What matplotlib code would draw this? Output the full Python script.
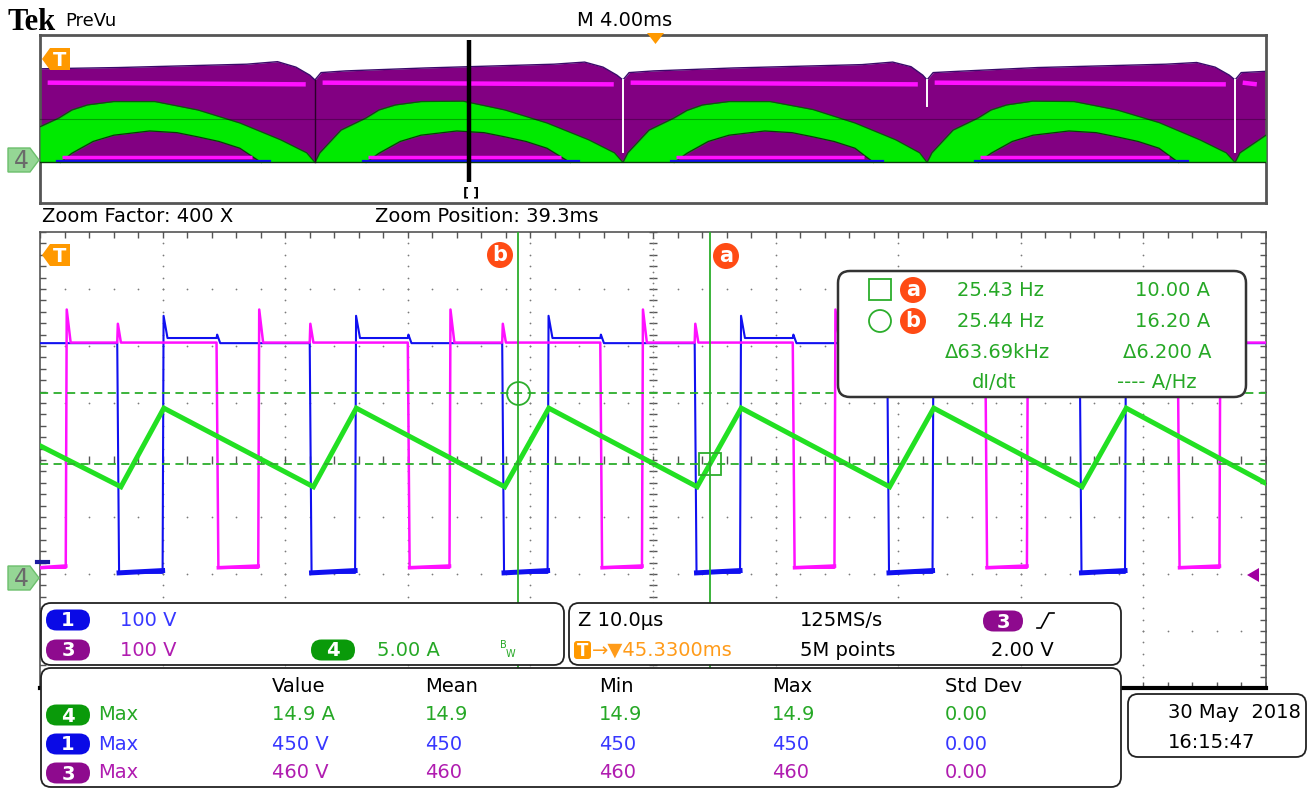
import matplotlib
matplotlib.use("Agg")
import matplotlib.pyplot as plt
from matplotlib.patches import FancyBboxPatch, Circle, Polygon
import numpy as np

plt.rcParams['font.family'] = ['DejaVu Sans']

W, H, DPI = 1313, 789, 100

# ---------------- data: zoomed window (time in µs, centre = 0, 10 µs/div) ----------------
ch4_t = [-50.0, -43.4, -39.9, -27.7, -24.2, -12.1, -8.5, 3.6, 7.2, 19.3, 22.9, 35.0, 38.6, 50.0]
ch4_a = [11.6, 8.0, 14.9, 8.0, 14.9, 8.0, 14.9, 8.0, 14.9, 8.0, 14.9, 8.0, 14.9, 8.3]

ch1_fall = [-43.7, -28.0, -12.3, 3.4, 19.1, 34.8]
ch1_rise = [-40.0, -24.3, -8.6, 7.1, 22.8, 38.5]
ch3_rise = [-47.9, -32.2, -16.6, -0.9, 14.8, 30.5, 46.2]
ch3_fall = [-35.6, -20.0, -4.3, 11.4, 27.1, 42.8]

# low, high, overshoot, shelf, glitch  (V)
ch1_levels = [0, 403, 451, 412, 418]
ch3_levels = [0, 395, 453, 395, 428]

cursor_t = [4.65, -11.05]     # cursor a, b (µs)
cursor_i = [10.00, 16.20]     # cursor a, b (A)

volts_per_div = [100, 100]    # ch1, ch3
amps_per_div = 5.0

# ---------------- data: PreVu (time in ms over 40 ms) ----------------
pv_up_t = [0.00, 0.62, 1.04, 1.55, 2.40, 3.75, 5.15, 6.52, 7.85, 8.70, 8.97,
           9.13, 9.82, 10.64, 11.06, 11.60, 12.43, 13.80, 15.17, 16.54, 17.90, 18.74, 19.02,
           19.18, 19.87, 20.69, 21.11, 21.62, 22.47, 23.82, 25.22, 26.59, 27.92, 28.70, 28.94,
           29.10, 29.79, 30.61, 31.03, 31.54, 32.39, 33.74, 35.14, 36.51, 37.84, 38.70, 38.99,
           39.15, 40.00]
pv_up_a = [8.5, 10.6, 12.5, 13.7, 14.5, 14.5, 12.5, 9.4, 5.4, 2.3, 0.0,
           2.3, 7.7, 10.6, 12.5, 13.7, 14.5, 14.6, 12.5, 9.4, 5.4, 2.3, 0.0,
           2.3, 7.7, 10.6, 12.4, 13.7, 14.5, 14.5, 12.6, 9.4, 5.4, 2.3, 0.0,
           2.3, 7.7, 10.6, 12.5, 13.7, 14.6, 14.5, 12.5, 9.5, 5.4, 2.3, 0.0,
           2.3, 6.5]

pv_lo_t = [[0.66, 1.04, 1.73, 2.41, 3.58, 4.47, 5.15, 5.84, 6.52, 7.22],
           [10.64, 11.06, 11.75, 12.43, 13.60, 14.49, 15.17, 15.86, 16.54, 17.30],
           [20.69, 21.11, 21.80, 22.48, 23.65, 24.54, 25.22, 25.91, 26.59, 27.20],
           [30.61, 31.03, 31.72, 32.40, 33.57, 34.46, 35.14, 35.83, 36.51, 37.15]]
pv_lo_a = [0.0, 2.2, 5.0, 6.5, 7.5, 7.1, 6.1, 5.0, 3.4, 0.0]

pv_top_t = [0.00, 2.55, 6.75, 7.75, 8.35, 8.80, 8.97,
            9.17, 9.97, 12.57, 16.77, 17.77, 18.37, 18.82, 19.02,
            19.22, 20.02, 22.62, 26.82, 27.82, 28.42, 28.80, 28.94,
            29.14, 29.94, 32.54, 36.74, 37.74, 38.34, 38.80, 38.99,
            39.19, 40.00]
pv_top_v = [428, 434, 450, 462, 436, 398, 375,
            410, 418, 432, 450, 460, 436, 398, 375,
            410, 418, 432, 448, 460, 438, 398, 375,
            410, 416, 434, 450, 458, 436, 398, 375,
            410, 416]
pv_band_v = 362
pv_dips = [8.97, 19.02, 28.94, 38.99]
pv_zoom_ms = 14.0

# ---------------- styling ----------------
OFF1, OFF3, OFF4 = -1.98, -1.89, -2.07   # channel ground positions (div)
BLUE, MAG, GRN = '#1010f0', '#ff10ff', '#22e022'
PURP = '#820082'
TBLUE, TMAG, TGRN, TORG = '#3737ff', '#b01cb0', '#26a826', '#ff9b19'
CURC = '#2cae2c'
RED = '#ff4b14'


def dv1(v): return np.asarray(v, float) / volts_per_div[0] + OFF1
def dv3(v): return np.asarray(v, float) / volts_per_div[1] + OFF3
def da4(a): return np.asarray(a, float) / amps_per_div + OFF4


def step_path(falls, rises, glitches, levels, start_high, t0=-50.0, t1=50.0):
    low, high, over, shelf, glitch = levels
    ev = sorted([(t, 0) for t in falls] + [(t, 1) for t in rises] + [(t, 2) for t in glitches])
    lvl = high if start_high else low
    is_high = start_high
    ts, vs = [t0], [lvl]
    for t, k in ev:
        if k == 0:
            ts += [t, t + 0.15]; vs += [lvl, low]; lvl = low; is_high = False
        elif k == 1:
            ts += [t, t + 0.08, t + 0.4]; vs += [low, over, shelf]; lvl = shelf; is_high = True
        elif is_high:
            ts += [t, t + 0.05, t + 0.3]; vs += [lvl, glitch, high]; lvl = high
    ts.append(t1); vs.append(lvl)
    return np.array(ts), np.array(vs, float)


fig = plt.figure(figsize=(W / DPI, H / DPI), dpi=DPI)
fig.patch.set_facecolor('white')

# ================= PreVu =================
axp = fig.add_axes([40 / W, 1 - 203 / H, 1226 / W, 168 / H], zorder=1)
axp.set_xlim(0, 40); axp.set_ylim(-4, 4)
axp.set_xticks([]); axp.set_yticks([])
for s in axp.spines.values():
    s.set_color('#555555'); s.set_linewidth(2)

base = da4(0)
axp.fill_between(pv_top_t, base, dv3(pv_top_v), color=PURP, lw=0, zorder=1)
axp.plot(pv_top_t, dv3(pv_top_v), color='#3a0a6a', lw=1.0, zorder=1.5)
edges = [0.0] + pv_dips + [40.0]
for a, b in zip(edges[:-1], edges[1:]):
    axp.plot([a + 0.25, b - 0.3], dv3([pv_band_v, pv_band_v - 8]), color=MAG, lw=3.2, zorder=2,
             solid_capstyle='butt')
axp.fill_between(pv_up_t, base, da4(pv_up_a), color='#00ea00', lw=0, zorder=3)
axp.plot(pv_up_t, da4(pv_up_a), color='#0a5a0a', lw=0.9, zorder=3.5)
axp.axhline(0, color='k', alpha=0.3, lw=0.8, zorder=3.6)
for lt in pv_lo_t:
    axp.fill_between(lt, base, da4(pv_lo_a), color=PURP, lw=0, zorder=4)
    axp.plot(lt, da4(pv_lo_a), color='#0a3a0a', lw=0.9, zorder=4.5)
    axp.plot([lt[0] + 0.05, lt[-1] - 0.3], dv3([6, 6]), color=MAG, lw=2.5, zorder=4.6,
             solid_capstyle='butt')
    axp.plot([lt[0] - 0.1, lt[-1] + 0.3], dv1([0, 0]), color=BLUE, lw=1.6, zorder=4.7)
axp.axhline(base, color='#0a3a0a', lw=1.0, zorder=4.8)
for i, d in enumerate(pv_dips):
    if i == 0:
        axp.plot([d, d], [dv3(375), base], color='#2a002a', lw=1.0, zorder=5)
    else:
        bottom = dv3(30) if i % 2 == 1 else dv3(250)
        axp.plot([d, d], [dv3(375), bottom], color='white', lw=1.4, zorder=5)
axp.plot([pv_zoom_ms, pv_zoom_ms], [3.76, -3.0], color='black', lw=3.2, zorder=6,
         solid_capstyle='butt')

# ================= main zoomed window =================
axm = fig.add_axes([40 / W, 1 - 688 / H, 1226 / W, 456 / H], zorder=1)
axm.set_xlim(-50, 50); axm.set_ylim(-4, 4)
axm.set_xticks([]); axm.set_yticks([])
for s in axm.spines.values():
    s.set_color('#555555'); s.set_linewidth(1.2)
axm.spines['bottom'].set_color('black'); axm.spines['bottom'].set_linewidth(3)

gcol = '#7a7a7a'
yy = np.arange(-4, 4.001, 0.2)
xx = np.arange(-50, 50.001, 2)
for xv in np.arange(-40, 41, 10):
    if xv == 0:
        continue
    axm.scatter(np.full(yy.size, xv), yy, s=1.6, color=gcol, lw=0, zorder=1)
for yv in range(-3, 4):
    if yv == 0:
        continue
    axm.scatter(xx, np.full(xx.size, yv), s=1.6, color=gcol, lw=0, zorder=1)
axm.plot(np.zeros(yy.size), yy, ls='none', marker='_', ms=6, mew=1, color='#555555', zorder=1)
axm.scatter(np.zeros(yy.size * 2 - 1), np.arange(-4, 4.001, 0.1), s=1.6, color=gcol, lw=0, zorder=1)
axm.plot(xx, np.zeros(xx.size), ls='none', marker='|', ms=6, mew=1, color='#555555', zorder=1)
for xe in (-50, 50):
    axm.plot(np.full(yy.size, xe), yy, ls='none', marker='_', ms=9, mew=1, color='#555555', zorder=1)
for ye in (-4, 4):
    axm.plot(xx, np.full(xx.size, ye), ls='none', marker='|', ms=9, mew=1, color='#555555', zorder=1)

# channel 1 (blue)
t1, v1 = step_path(ch1_fall, ch1_rise, ch3_fall, ch1_levels, True)
axm.plot(t1, dv1(v1), color=BLUE, lw=1.5, zorder=3)
for f, r in zip(ch1_fall, ch1_rise):
    axm.plot([f + 0.15, r], dv1([ch1_levels[0], ch1_levels[0] + 4]), color=BLUE, lw=3.6, zorder=3)
# channel 3 (magenta)
t3, v3 = step_path(ch3_fall, ch3_rise, ch1_fall, ch3_levels, False)
axm.plot(t3, dv3(v3), color=MAG, lw=1.8, zorder=4)
lows3 = [(-50.0, ch3_rise[0])] + [(f + 0.15, r) for f, r in zip(ch3_fall, ch3_rise[1:])]
for f, r in lows3:
    axm.plot([f, r], dv3([ch3_levels[0], ch3_levels[0] + 3]), color=MAG, lw=2.6, zorder=4)
# channel 4 (green current)
axm.plot(ch4_t, da4(ch4_a), color=GRN, lw=3.6, zorder=5, solid_joinstyle='miter')

# cursors
for tc in cursor_t:
    axm.axvline(tc, color=CURC, lw=1.3, zorder=6)
for ic in cursor_i:
    axm.axhline(da4(ic), color=CURC, lw=1.3, ls=(0, (4.5, 3)), zorder=6)
axm.plot([cursor_t[0]], [da4(cursor_i[0])], marker='s', ms=16, mfc='none', mec=CURC, mew=1.3, zorder=7)
axm.plot([cursor_t[1]], [da4(cursor_i[1])], marker='o', ms=16.5, mfc='none', mec=CURC, mew=1.3, zorder=7)

# ================= overlay (pixel coordinates) =================
ov = fig.add_axes([0, 0, 1, 1], zorder=5)
ov.set_xlim(0, W); ov.set_ylim(H, 0); ov.axis('off')
ov.patch.set_alpha(0)


def rbox(x0, y0, x1, y1, r=10, fc='white', ec='#222222', lw=1.3):
    ov.add_patch(FancyBboxPatch((x0, y0), x1 - x0, y1 - y0,
                                boxstyle=f"round,pad=0,rounding_size={r}", fc=fc, ec=ec, lw=lw))


def pill(cx, cy, w, h, color, label):
    ov.add_patch(FancyBboxPatch((cx - w / 2, cy - h / 2), w, h,
                                boxstyle=f"round,pad=0,rounding_size={h / 2}", fc=color, ec='none'))
    ov.text(cx, cy + 1, label, color='white', fontsize=14, fontweight='bold', ha='center', va='center')


def txt(x, y, s, color='black', size=14, ha='left', **kw):
    ov.text(x, y, s, color=color, fontsize=size, ha=ha, va='center', **kw)


def tmarker(y):
    ov.add_patch(Polygon([(42, y), (50, y - 11), (70, y - 11), (70, y + 11), (50, y + 11)],
                         closed=True, fc='#ff9900', ec='none'))
    ov.text(60, y + 1, 'T', color='white', fontsize=14, fontweight='bold', ha='center', va='center')


def ch4marker(y):
    ov.add_patch(Polygon([(8, y - 12), (30, y - 12), (39, y), (30, y + 12), (8, y + 12)],
                         closed=True, fc='#95d695', ec='#6cbf6c', lw=1))
    ov.text(21, y + 1, '4', color='#6a6a6a', fontsize=17, ha='center', va='center')


def curlabel(x, y, s):
    ov.add_patch(Circle((x, y), 13, fc=RED, ec='none'))
    ov.text(x, y, s, color='white', fontsize=15, fontweight='bold', ha='center', va='center')


# header
ov.text(7, 22, 'Tek', fontsize=22, fontweight='bold', family='Liberation Serif', va='center')
txt(65, 21, 'PreVu', size=13)
txt(577, 20, 'M 4.00ms')
ov.add_patch(Polygon([(647, 33), (664, 33), (655.5, 44)], closed=True, fc='#ff9900', ec='none'))
txt(463, 193, '[ ]', size=9, fontweight='bold')
tmarker(59)
ch4marker(160)
txt(42, 216, 'Zoom Factor: 400 X')
txt(375, 216, 'Zoom Position: 39.3ms')

# main window markers
tmarker(255)
ch4marker(578)
ov.plot([37, 48], [562, 562], color='#1a1aa0', lw=3)
ov.add_patch(Polygon([(1247, 575), (1259, 568), (1259, 582)], closed=True, fc='#a000a0', ec='none'))
curlabel(500, 255, 'b')
curlabel(726, 256, 'a')

# cursor readout box
rbox(838, 271, 1246, 397, r=12, ec='#333333', lw=1.8)
ov.add_patch(FancyBboxPatch((869, 279), 22, 21, boxstyle="square,pad=0", fc='none', ec=CURC, lw=1.3))
ov.add_patch(Circle((880, 321), 11, fc='none', ec=CURC, lw=1.3))
curlabel(913, 290, 'a')
curlabel(913, 321, 'b')
txt(957, 290, '25.43 Hz', TGRN)
txt(1135, 290, '10.00 A', TGRN)
txt(957, 321, '25.44 Hz', TGRN)
txt(1135, 321, '16.20 A', TGRN)
txt(945, 352, 'Δ63.69kHz', TGRN)
txt(1123, 352, 'Δ6.200 A', TGRN)
txt(972, 382, 'dI/dt', TGRN)
txt(1117, 382, '---- A/Hz', TGRN)

# channel box
rbox(41, 603, 564, 665, r=10)
pill(68, 620, 44, 21, '#0a0ae6', '1')
txt(120, 620, '100 V', TBLUE)
pill(68, 650, 44, 21, '#8e0a8e', '3')
txt(120, 650, '100 V', TMAG)
pill(333, 650, 44, 21, '#0a9a0a', '4')
txt(377, 650, '5.00 A', TGRN)
txt(500, 645, 'B', TGRN, size=7)
txt(506, 654, 'W', TGRN, size=7)

# timebase box
rbox(569, 603, 1121, 665, r=10)
txt(578, 620, 'Z 10.0µs')
ov.add_patch(FancyBboxPatch((574, 641), 17, 18, boxstyle="round,pad=0,rounding_size=3", fc='#ff9900', ec='none'))
ov.text(582.5, 651, 'T', color='white', fontsize=12, fontweight='bold', ha='center', va='center')
txt(592, 650, '→▼45.3300ms', TORG)
txt(800, 620, '125MS/s')
txt(800, 650, '5M points')
pill(1003, 621, 40, 21, '#8e0a8e', '3')
ov.plot([1037, 1041, 1049, 1054], [628, 628, 613, 613], color='black', lw=1.2)
txt(991, 650, '2.00 V')

# measurement table box
rbox(41, 668, 1121, 787, r=10)
cols = [272, 425, 599, 772, 945]
for x, s in zip(cols, ['Value', 'Mean', 'Min', 'Max', 'Std Dev']):
    txt(x, 687, s)
rows = [
    (715, '#0a9a0a', '4', TGRN, ['14.9 A', '14.9', '14.9', '14.9', '0.00']),
    (744, '#0a0ae6', '1', TBLUE, ['450 V', '450', '450', '450', '0.00']),
    (773, '#8e0a8e', '3', TMAG, ['460 V', '460', '460', '460', '0.00']),
]
for y, pc, lab, tc, vals in rows:
    pill(68, y, 44, 21, pc, lab)
    txt(98, y, 'Max', tc)
    for x, s in zip(cols, vals):
        txt(x, y, s, tc)

# date box
rbox(1128, 694, 1306, 757, r=10)
txt(1168, 713, '30 May  2018')
txt(1168, 742, '16:15:47')

fig.savefig('out.png', dpi=DPI, facecolor='white')
